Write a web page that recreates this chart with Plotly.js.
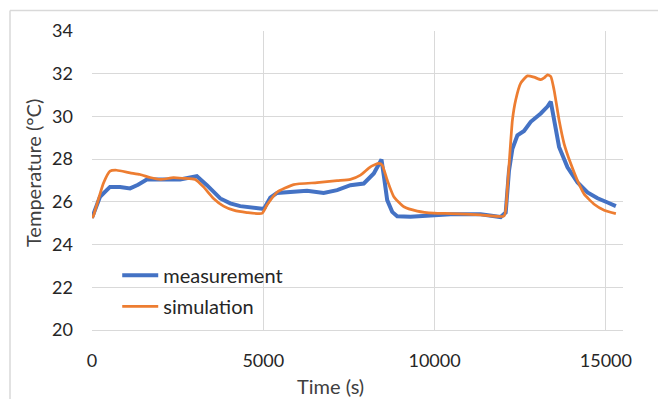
<!DOCTYPE html>
<html>
<head>
<meta charset="utf-8">
<script src="https://cdn.plot.ly/plotly-3.0.1.min.js"></script>
<style>html,body{margin:0;padding:0;background:#fff;}#chart{width:658px;height:399px;}</style>
</head>
<body>
<div id="chart"></div>
<script>
var measTime = [0, 40, 234, 526, 819, 1111, 1345, 1600, 2076, 2573, 2865, 3061, 3200, 3354, 3743, 4035, 4327, 4708, 4962, 5030, 5205, 5401, 5789, 6277, 6763, 7155, 7544, 7933, 8225, 8371, 8450, 8530, 8617, 8763, 8909, 9298, 9883, 10468, 11345, 11930, 12076, 12172, 12272, 12418, 12611, 12807, 13099, 13295, 13392, 13488, 13634, 13880, 14173, 14465, 14757, 15050, 15292];
var measTemp = [25.25, 25.4, 26.24, 26.7, 26.7, 26.63, 26.8, 27.05, 27.05, 27.05, 27.14, 27.2, 27.0, 26.78, 26.16, 25.93, 25.8, 25.72, 25.68, 25.7, 26.2, 26.42, 26.47, 26.52, 26.42, 26.55, 26.78, 26.86, 27.33, 27.72, 27.98, 27.1, 26.08, 25.53, 25.33, 25.3, 25.38, 25.42, 25.42, 25.29, 25.5, 27.46, 28.49, 29.12, 29.32, 29.75, 30.14, 30.46, 30.69, 29.83, 28.57, 27.62, 26.91, 26.44, 26.17, 25.97, 25.8];

var simTime = [0, 38, 330, 526, 722, 1111, 1404, 1696, 1988, 2377, 2670, 3012, 3254, 3547, 3839, 4132, 4523, 4962, 5108, 5401, 5886, 6570, 7155, 7544, 7836, 8128, 8371, 8471, 8617, 8810, 9102, 9494, 9980, 10468, 11345, 12026, 12126, 12272, 12368, 12515, 12711, 12904, 13099, 13196, 13295, 13392, 13488, 13634, 13781, 13977, 14173, 14368, 14658, 14950, 15292];
var simTemp = [25.25, 25.33, 26.86, 27.44, 27.48, 27.36, 27.28, 27.14, 27.05, 27.13, 27.1, 27.05, 26.7, 26.16, 25.8, 25.61, 25.5, 25.46, 25.85, 26.45, 26.81, 26.9, 26.99, 27.05, 27.25, 27.64, 27.8, 27.72, 27.02, 26.24, 25.77, 25.57, 25.47, 25.45, 25.39, 25.34, 26.68, 29.83, 30.77, 31.56, 31.9, 31.84, 31.72, 31.8, 31.95, 31.87, 31.24, 29.83, 28.72, 27.78, 26.99, 26.36, 25.89, 25.61, 25.45];

var xTicks = [0, 5000, 10000, 15000];
var yTicks = [20, 22, 24, 26, 28, 30, 32, 34];

var FONT = 'Lato, "Open Sans", sans-serif';
var traces = [
  {x: measTime, y: measTemp, type: 'scatter', mode: 'lines', name: 'measurement', legendgroup: 'a',
   line: {color: '#4472C4', width: 4}},
  {x: simTime, y: simTemp, type: 'scatter', mode: 'lines', name: 'simulation', legendgroup: 'b',
   line: {color: '#ED7D31', width: 2.75, shape: 'spline', smoothing: 0.5}}
];

var layout = {
  width: 658, height: 399,
  margin: {l: 92, r: 35, t: 31, b: 69},
  paper_bgcolor: '#ffffff', plot_bgcolor: '#ffffff',
  font: {family: FONT, size: 18, color: '#262626'},
  showlegend: true,
  legend: {x: 0.0475, y: 0.2483, xanchor: 'left', yanchor: 'top', bgcolor: 'rgba(0,0,0,0)',
           itemwidth: 36,
           traceorder: 'grouped', tracegroupgap: 2, font: {family: FONT, size: 20, color: '#262626'}},
  xaxis: {range: [0, 15500], tickvals: xTicks, ticktext: xTicks.map(String), showgrid: true,
          gridcolor: '#d9d9d9', gridwidth: 1, zeroline: false, showline: true, linecolor: '#d9d9d9',
          linewidth: 1, ticks: '', ticklabelstandoff: 14, tickfont: {family: FONT, size: 18, color: '#262626'}},
  yaxis: {range: [20, 34], tickvals: yTicks, ticktext: yTicks.map(String), showgrid: true,
          gridcolor: '#d9d9d9', gridwidth: 1, zeroline: false, showline: false,
          ticks: '', ticklabelstandoff: 18, tickfont: {family: FONT, size: 18, color: '#262626'}},
  annotations: [
    {text: 'Time (s)', xref: 'paper', yref: 'paper', x: (330 - 92) / 531, y: (330 - 386) / 299,
     xanchor: 'center', yanchor: 'middle', showarrow: false, font: {family: FONT, size: 20, color: '#404040'}},
    {text: 'Temperature (°C)', xref: 'paper', yref: 'paper', x: (33 - 92) / 531, y: (330 - 173) / 299,
     xanchor: 'center', yanchor: 'middle', textangle: -90, showarrow: false, font: {family: FONT, size: 20, color: '#404040'}}
  ],
  shapes: [
    {type: 'line', xref: 'paper', yref: 'paper', x0: (10 - 92) / 531, x1: (10 - 92) / 531,
     y0: (330 - 10.5) / 299, y1: (330 - 400) / 299, line: {color: '#d9d9d9', width: 1.5}},
    {type: 'line', xref: 'paper', yref: 'paper', x0: (10 - 92) / 531, x1: (659 - 92) / 531,
     y0: (330 - 10.5) / 299, y1: (330 - 10.5) / 299, line: {color: '#d9d9d9', width: 1.5}}
  ]
};

Plotly.newPlot('chart', traces, layout, {displayModeBar: false, staticPlot: true});
</script>
</body>
</html>
